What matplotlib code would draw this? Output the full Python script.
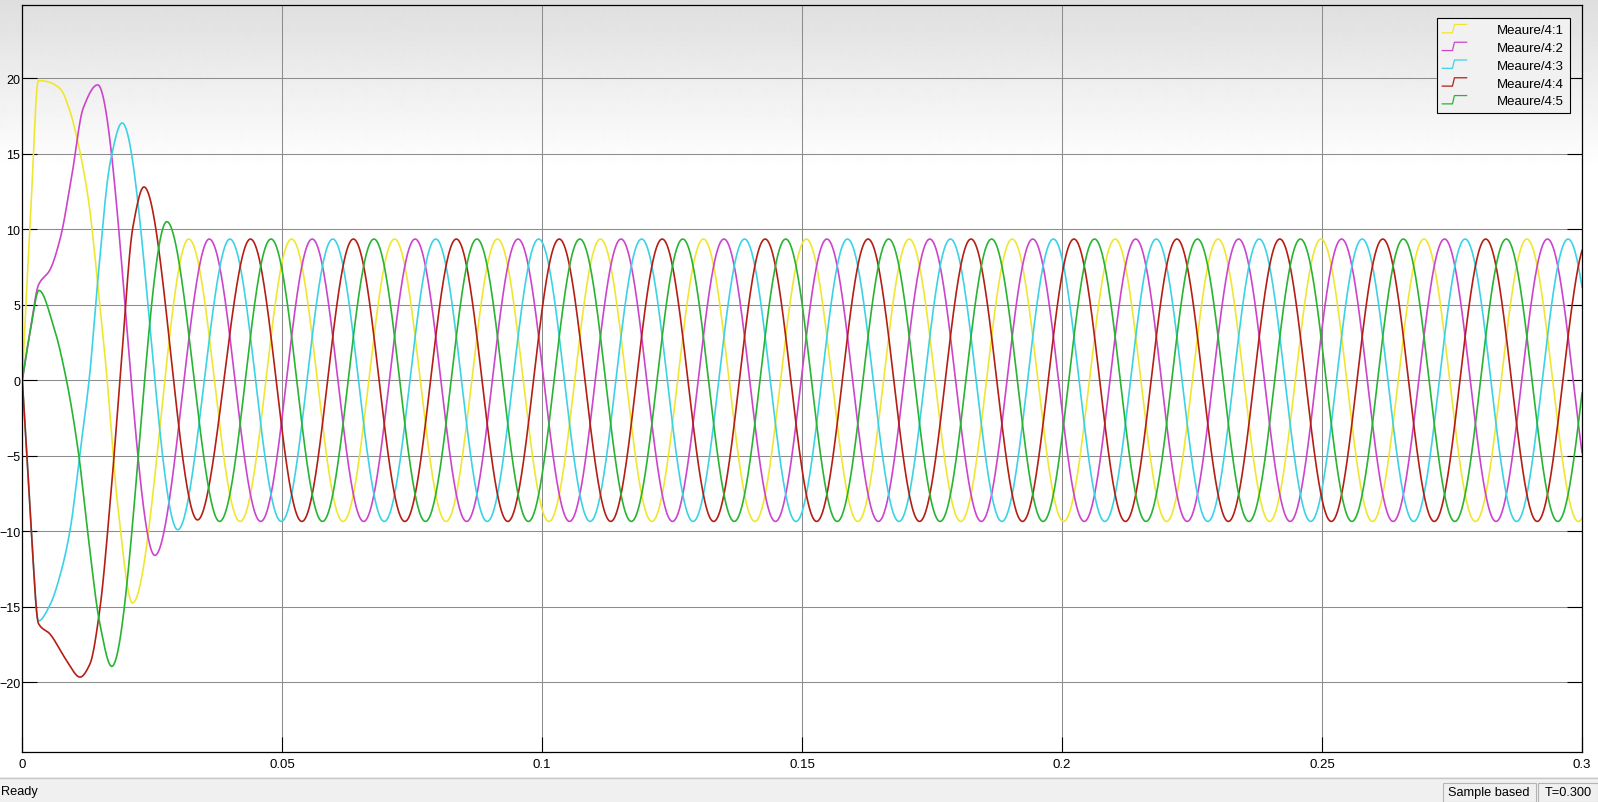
import numpy as np
import matplotlib
matplotlib.use("Agg")
import matplotlib.pyplot as plt
from matplotlib.lines import Line2D
from matplotlib.legend_handler import HandlerBase

plt.rcParams['font.family'] = ['Liberation Sans', 'DejaVu Sans']

labels = ["Meaure/4:1", "Meaure/4:2", "Meaure/4:3", "Meaure/4:4", "Meaure/4:5"]
colors = ["#f0e632", "#cc44cc", "#3cd2e6", "#b41e14", "#28b432"]

# start-up transient, key points (time in ms)
yellow_t = [0, 1.6, 3.1, 4.5, 7.3, 9.0, 10.4, 12.7, 14.9, 16.2, 18.3, 21.2]
yellow_v = [0, 11.0, 19.85, 19.8, 19.3, 18.0, 16.2, 12.0, 5.0, 0.5, -8.1, -14.75]
magenta_t = [0, 1.6, 3.1, 5.3, 7.3, 9.5, 11.7, 14.5, 25.5]
magenta_v = [0, 3.4, 6.3, 7.3, 9.4, 13.5, 18.0, 19.56, -11.6]
cyan_t = [0, 0.85, 1.8, 3.1, 5.3, 7.2, 9.2, 11.1, 13.0, 14.3, 17.0, 19.2, 29.9]
cyan_v = [0, -4.8, -10.4, -15.94, -14.9, -13.0, -9.9, -4.8, 0.5, 5.8, 14.6, 17.04, -9.9]
red_t = [0, 0.85, 1.8, 3.1, 5.3, 8.5, 11.1, 13.0, 14.9, 16.9, 18.8, 21.3, 23.4, 33.7]
red_v = [0, -4.8, -10.4, -16.1, -16.8, -18.55, -19.66, -18.8, -15.2, -8.1, 0.0, 10.2, 12.8, -9.25]
green_t = [0, 1.6, 3.2, 6.0, 8.5, 10.8, 12.7, 14.9, 17.2, 27.8]
green_v = [0, 3.4, 5.95, 3.6, 0.0, -4.8, -10.4, -16.1, -18.95, 10.5]

# steady state: 5-phase sine, first steady extremum of each trace
period_ms = 19.8
steady_t0 = [32.0, 35.96, 39.92, 43.88, 37.94]
steady_v0 = [9.35, 9.35, 9.35, 9.35, -9.35]

xticks = [0, 0.05, 0.1, 0.15, 0.2, 0.25, 0.3]
xticklabels = ["0", "0.05", "0.1", "0.15", "0.2", "0.25", "0.3"]
yticks = [-20, -15, -10, -5, 0, 5, 10, 15, 20]

W, H = 1598, 803


def pchip(x, y, xn):
    x = np.asarray(x, float); y = np.asarray(y, float)
    h = np.diff(x); d = np.diff(y) / h
    m = np.zeros_like(y)
    for k in range(1, len(x) - 1):
        if d[k-1] * d[k] > 0:
            w1 = 2*h[k] + h[k-1]; w2 = h[k] + 2*h[k-1]
            m[k] = (w1 + w2) / (w1/d[k-1] + w2/d[k])
    m[0] = ((2*h[0] + h[1])*d[0] - h[0]*d[1]) / (h[0] + h[1])
    if np.sign(m[0]) != np.sign(d[0]):
        m[0] = 0
    m[-1] = ((2*h[-1] + h[-2])*d[-1] - h[-1]*d[-2]) / (h[-1] + h[-2])
    if np.sign(m[-1]) != np.sign(d[-1]):
        m[-1] = 0
    i = np.clip(np.searchsorted(x, xn) - 1, 0, len(x) - 2)
    s = (xn - x[i]) / h[i]
    h00 = 2*s**3 - 3*s**2 + 1; h10 = s**3 - 2*s**2 + s
    h01 = -2*s**3 + 3*s**2; h11 = s**3 - s**2
    return h00*y[i] + h10*h[i]*m[i] + h01*y[i+1] + h11*h[i]*m[i+1]


def trace(kt, kv, t0, v0, tms):
    kt = list(kt) + [t0, t0 + period_ms/2]
    kv = list(kv) + [v0, -v0]
    steady = v0 * np.cos(2*np.pi*(tms - t0)/period_ms)
    return np.where(tms < t0, pchip(kt, kv, tms), steady)


class StepHandler(HandlerBase):
    def create_artists(self, legend, orig_handle, xdescent, ydescent, width, height, fontsize, trans):
        xs = np.array([0, 0.42, 0.5, 1.0])*width - xdescent
        ys = np.array([0.05, 0.05, 0.95, 0.95])*height - ydescent
        ln = Line2D(xs, ys, color=orig_handle.get_color(), lw=0.9)
        ln.set_transform(trans)
        return [ln]


t = np.linspace(0, 0.3, 15001)
tms = t * 1000
keys = [(yellow_t, yellow_v), (magenta_t, magenta_v), (cyan_t, cyan_v), (red_t, red_v), (green_t, green_v)]

fig = plt.figure(figsize=(W/100, H/100), dpi=100)
fig.patch.set_facecolor("white")

# scope background: grey fading to white at the top
bg = fig.add_axes([0, 0, 1, 1], zorder=-10)
rows = np.arange(H)
shade = np.clip(0.87 + 0.13*rows/170, 0, 1)
grad = np.repeat(shade[:, None], 2, axis=1)
bg.imshow(grad, cmap="gray", vmin=0, vmax=1, aspect="auto", extent=[0, 1, 0, 1], interpolation="bilinear")
bg.axis("off")

ax = fig.add_axes([22.3/W, (H-753.3)/H, (1582.0-22.3)/W, (753.3-6)/H])
ax.set_facecolor("none")
handles = []
for (kt, kv), t0, v0, c, lab in zip(keys, steady_t0, steady_v0, colors, labels):
    y = trace(kt, kv, t0, v0, tms)
    l, = ax.plot(t, y, color=c, lw=1.2, label=lab)
    handles.append(l)

ax.set_xlim(0, 0.3)
ax.set_ylim(-24.64, 24.85)
ax.set_xticks(xticks)
ax.set_xticklabels(xticklabels)
ax.set_yticks(yticks)
ax.grid(True, color="#8c8c8c", lw=0.75)
ax.set_axisbelow(True)
ax.tick_params(direction="in", length=11, width=0.8, labelsize=9.5, right=True, colors="black")
ax.tick_params(axis="y", pad=1.5, labelsize=9.0)
ax.tick_params(axis="x", pad=4)
for s in ax.spines.values():
    s.set_color("black")
    s.set_linewidth(0.9)

leg = ax.legend(handles=handles, loc="upper right", bbox_to_anchor=(0.992, 0.982), borderaxespad=0,
                fontsize=9.5, handlelength=1.85, handletextpad=2.3, labelspacing=0.42, borderpad=0.42,
                fancybox=False, framealpha=1, edgecolor="black", facecolor="#f1f1f1",
                handler_map={Line2D: StepHandler()})
leg.get_frame().set_linewidth(0.8)

# status bar
sb = fig.add_axes([0, 0, 1, 25/H])
sb.set_xlim(0, W); sb.set_ylim(0, 25)
sb.set_facecolor("#f0f0f0")
for s in sb.spines.values():
    s.set_visible(False)
sb.set_xticks([]); sb.set_yticks([])
sb.axhline(24.5, color="#c8c8c8", lw=1)
sb.text(1, 11, "Ready", fontsize=9.2, va="center", ha="left")
sb.add_patch(plt.Rectangle((1443.3, 0), 93, 19.5, fill=False, edgecolor="#b4b4b4", lw=0.8))
sb.add_patch(plt.Rectangle((1538.3, 0), 60, 19.5, fill=False, edgecolor="#b4b4b4", lw=0.8))
sb.text(1447.7, 9.5, "Sample based", fontsize=9.2, va="center", ha="left")
sb.text(1544.5, 9.5, "T=0.300", fontsize=9.2, va="center", ha="left")

fig.savefig("out.png", dpi=100)
